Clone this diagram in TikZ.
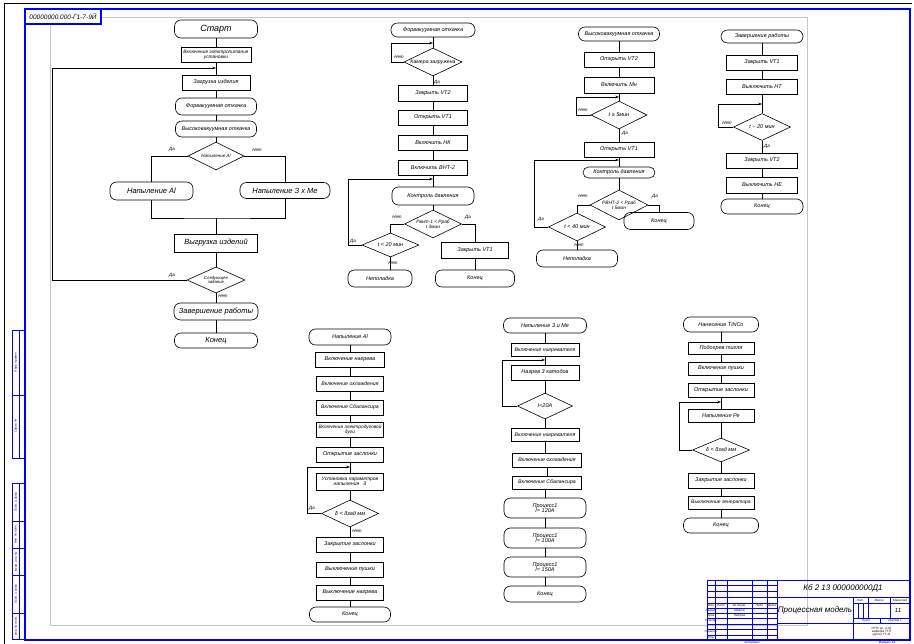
\documentclass[tikz,border=0pt]{standalone}
\usepackage{fontspec}
\setmainfont{Liberation Sans}
\usetikzlibrary{shapes.geometric,arrows.meta}
\newcommand\gfs[1]{\fontsize{#1}{#1}\selectfont\itshape}
\tikzset{
  base/.style={draw, line width=0.6pt, inner sep=0.5pt, align=center, font=\gfs{5.5}},
  term/.style={base, rounded corners=6.5pt},
  proc/.style={base},
  dec/.style={draw, line width=0.6pt, diamond, inner sep=0pt},
  dtx/.style={font=\gfs{5.5}, align=center, inner sep=0pt},
  sz/.style 2 args={minimum width=#1pt, minimum height=#2pt},
  ln/.style={line width=0.6pt},
  arr/.style={ln, -{Stealth[length=3.5pt,width=2.5pt]}},
  lbl/.style={font=\gfs{4.5}, inner sep=0.5pt},
  frm/.style={blue, line width=1.3pt},
  tb/.style={blue, line width=0.9pt},
  tbt/.style={font=\gfs{3}, inner sep=0pt},
}
\begin{document}
\begin{tikzpicture}[x=1pt,y=-1pt]
\useasboundingbox (0,0) rectangle (914,644);
\fill[white] (0,0) rectangle (914,644);
% sheet frames
\draw[gray!45, line width=0.8pt] (50,17) rectangle (807,625);
\draw[black, line width=0.7pt] (4,644) -- (4,3) -- (912,3);
\draw[frm] (25,9) rectangle (910,640);
\draw[frm, fill=white] (25,9) rectangle (101,24);
\node[font=\gfs{6.5}, inner sep=0pt] (stamp) at (63,16.5) {00000000.000-Г1-7-9Й};
% left margin stamps
\draw[tb] (12.7,330) rectangle (25,458);
\draw[tb] (19,330) -- (19,458);
\draw[tb] (12.7,395) -- (25,395);
\draw[tb] (12.7,483) rectangle (25,639);
\draw[tb] (19,483) -- (19,639);
\foreach \yy in {521,548,575,613} \draw[tb] (12.7,\yy) -- (25,\yy);
\node[tbt, rotate=90] (m1) at (15.9,362) {Перв. примен.};
\node[tbt, rotate=90] (m2) at (15.9,426) {Справ. №};
\node[tbt, rotate=90] (m3) at (15.9,502) {Подп. и дата};
\node[tbt, rotate=90] (m4) at (15.9,534.5) {Инв. № дубл.};
\node[tbt, rotate=90] (m5) at (15.9,561.5) {Взам. инв. №};
\node[tbt, rotate=90] (m6) at (15.9,594) {Подп. и дата};
\node[tbt, rotate=90] (m7) at (15.9,626) {Инв. № подл.};
% title block
\draw[tb] (707,580) rectangle (910,640);
\draw[tb] (777,580) -- (777,640);
\draw[tb] (777,597) -- (910,597);
\draw[tb] (777,623) -- (910,623);
\draw[tb] (853,597) -- (853,640);
\draw[tb] (853,603) -- (910,603);
\draw[tb] (853,618) -- (910,618);
\draw[tb] (868,597) -- (868,618);
\draw[tb] (890,597) -- (890,618);
\draw[tb] (858,603) -- (858,618);
\draw[tb] (863,603) -- (863,618);
\draw[tb] (880,618) -- (880,623);
\foreach \xx in {715,727,752,767} \draw[tb] (\xx,580) -- (\xx,640);
\foreach \yy in {585,591,597,603,608,613,618,624,629,635} \draw[tb] (707,\yy) -- (777,\yy);
\node[font=\gfs{8}, inner sep=0pt] (tbcode) at (843,588.5) {Кб 2 13 000000000Д1};
\node[font=\gfs{8}, inner sep=0pt] (tbname) at (815,610) {Процессная модель};
\node[tbt] (tl1) at (860.5,600) {Лит.};
\node[tbt] (tl2) at (879,600) {Масса};
\node[tbt] (tl3) at (900,600) {Масштаб};
\node[font=\gfs{6}, inner sep=0pt] (tl4) at (898,610.5) {11};
\node[tbt] (tl5) at (866,620.5) {Лист};
\node[tbt] (tl6) at (895,620.5) {Листов 1};
\node[tbt, align=center] (tl7) at (881.5,631.5) {ИГТУ гр. Х-01\\кафедра ТТП\\группа ТТ-11};
\node[tbt] (th1) at (711,605.5) {Изм};
\node[tbt] (th2) at (721,605.5) {Лист};
\node[tbt] (th3) at (739.5,605.5) {№ докум.};
\node[tbt] (th4) at (759.5,605.5) {Подп.};
\node[tbt] (th5) at (772,605.5) {Дата};
\node[tbt] (tr1) at (711,610.5) {Разраб.};
\node[tbt] (tr1b) at (739.5,610.5) {Иванов};
\node[tbt] (tr2) at (711,615.5) {Пров.};
\node[tbt] (tr2b) at (739.5,615.5) {Петров};
\node[tbt] (tr3) at (711,621) {Т.контр.};
\node[tbt] (tr4) at (711,632) {Н.контр.};
\node[tbt] (tr5) at (711,637.5) {Утв.};
\node[tbt] (tcop) at (752,642.3) {Копировал};
\node[tbt] (tfmt) at (887,642.3) {Формат А3};

% ===== Flowchart A =====
\node[term, sz={83}{18}, font=\gfs{9}] (A1) at (216,29) {Старт};
\node[proc, sz={70}{15}, font=\gfs{4.8}] (A2) at (216,54.5) {Включение электропитания\\установки};
\node[proc, sz={68}{15}] (A3) at (216,82.5) {Загрузка изделия};
\node[term, sz={81}{17}] (A4) at (216,106.5) {Форвакуумная откачка};
\node[term, sz={81}{16}] (A5) at (216,129) {Высоковакуумная откачка};
\node[dec, sz={56}{28}, label={[dtx,font=\gfs{4.5}]center:{Напыление Al}}] (A6) at (216,156) {};
\node[term, sz={83}{18}, font=\gfs{7.5}] (A7) at (151.5,191) {Напыление Al};
\node[term, sz={90}{16}, font=\gfs{7.5}] (A8) at (285,190.5) {Напыление З х Ме};
\coordinate (Aj) at (216,218);
\node[proc, sz={83}{18}, font=\gfs{7.5}] (A9) at (216,243) {Выгрузка изделий};
\node[dec, sz={58}{26}, label={[dtx,font=\gfs{4.3}]center:{Следующее\\задание}}] (A10) at (216,280) {};
\node[term, sz={84}{17}, font=\gfs{7.5}] (A11) at (216,311.5) {Завершение работы};
\node[term, sz={83}{15}, font=\gfs{7.5}] (A12) at (216,340.5) {Конец};
\coordinate (AL) at (52,68);
\draw[ln] (A1) -- (A2);
\draw[ln] (A2) -- (A3);
\draw[ln] (A3) -- (A4);
\draw[ln] (A4) -- (A5);
\draw[ln] (A5) -- (A6);
\draw[ln] (A6.west) -| (A7.north);
\draw[ln] (A6.east) -| (A8.north);
\draw[ln] (A7.south) |- (Aj) -| (A8.south);
\draw[ln] (Aj) -- (A9);
\draw[ln] (A9) -- (A10);
\draw[ln] (A10) -- (A11);
\draw[ln] (A11) -- (A12);
\draw[arr] (A10.west) -| (AL) -- (A3.north |- AL);
\node[lbl] (lA1) at (172,149) {Да};
\node[lbl] (lA2) at (257,150) {Нет};
\node[lbl] (lA3) at (172,275) {Да};
\node[lbl] (lA4) at (223,296) {Нет};

% ===== Flowchart B =====
\node[term, sz={84}{14}] (B1) at (433,30) {Форвакуумная откачка};
\node[dec, sz={58}{28}, label={[dtx,font=\gfs{5.2}]center:{Камера загружена}}] (B2) at (433,62) {};
\node[proc, sz={69}{16}] (B3) at (433,93) {Закрыть VT2};
\node[proc, sz={69}{15}] (B4) at (433,117.5) {Открыть VT1};
\node[proc, sz={69}{15}] (B5) at (433,142.5) {Включить НК};
\node[proc, sz={69}{15}] (B6) at (433,167.5) {Включить ВНТ-2};
\node[term, sz={82}{18}] (B7) at (433,196) {Контроль давления};
\node[dec, sz={57}{28}, label={[dtx,font=\gfs{4.8}]center:{Pвнт-1 < Pраб\\t 3мин}}] (B8) at (433,224) {};
\node[dec, sz={57}{24}, label={[dtx]center:{t < 20 мин}}] (B9) at (390.5,245) {};
\node[term, sz={64}{17}] (B10) at (380,278.5) {Неполадка};
\node[proc, sz={67}{16}] (B11) at (475,250) {Закрыть VT1};
\node[term, sz={79}{17}] (B12) at (475,278.5) {Конец};
\coordinate (BL1) at (391,43);
\coordinate (BL2) at (348,179);
\draw[ln] (B1) -- (B2);
\draw[ln] (B2) -- (B3);
\draw[ln] (B3) -- (B4);
\draw[ln] (B4) -- (B5);
\draw[ln] (B5) -- (B6);
\draw[ln] (B6) -- (B7);
\draw[ln] (B7) -- (B8);
\draw[ln] (B8.west) -| (B9.north);
\draw[ln] (B8.east) -| (B11.north);
\draw[ln] (B9.south) -- (B9.south |- B10.north);
\draw[ln] (B11) -- (B12);
\draw[arr] (B2.west) -| (BL1) -- (B2.north |- BL1);
\draw[arr] (B9.west) -| (BL2) -- (B6.south |- BL2);
\node[lbl] (lB1) at (399,57) {Нет};
\node[lbl] (lB2) at (437,82) {Да};
\node[lbl] (lB3) at (397,217) {Нет};
\node[lbl] (lB4) at (468,217) {Да};
\node[lbl] (lB5) at (353,241) {Да};
\node[lbl] (lB6) at (393,263) {Нет};

% ===== Flowchart C =====
\node[term, sz={81}{14}] (C1) at (619,34) {Высоковакуумная откачка};
\node[proc, sz={70}{15}] (C2) at (619,59.5) {Открыть VT2};
\node[proc, sz={70}{16}] (C3) at (619,85) {Включить Мн};
\node[dec, sz={56}{28}, label={[dtx]center:{t ≥ 5мин}}] (C4) at (619,115) {};
\node[proc, sz={70}{15}] (C5) at (619,149.5) {Открыть VT1};
\node[term, sz={72}{11}, rounded corners=5.5pt] (C6) at (619,172.5) {Контроль давления};
\node[dec, sz={58}{30}, label={[dtx,font=\gfs{4.8}]center:{PВНТ-2 < Pраб\\t 5мин}}] (C7) at (619,205) {};
\node[dec, sz={57}{28}, label={[dtx]center:{t < 40 мин}}] (C8) at (577,227) {};
\node[term, sz={81}{17}] (C9) at (577,258.5) {Неполадка};
\node[term, sz={70}{17}] (C10) at (659,221) {Конец};
\coordinate (CL1) at (576,97);
\coordinate (CL2) at (534,160);
\draw[ln] (C1) -- (C2);
\draw[ln] (C2) -- (C3);
\draw[ln] (C3) -- (C4);
\draw[ln] (C4) -- (C5);
\draw[ln] (C5) -- (C6);
\draw[ln] (C6) -- (C7);
\draw[ln] (C7.west) -| (C8.north);
\draw[ln] (C7.east) -| (C10.north);
\draw[ln] (C8) -- (C9);
\draw[arr] (C4.west) -| (CL1) -- (C3.south |- CL1);
\draw[arr] (C8.west) -| (CL2) -- (C5.south |- CL2);
\node[lbl] (lC1) at (583,110) {Нет};
\node[lbl] (lC2) at (625,133) {Да};
\node[lbl] (lC3) at (583,196) {Нет};
\node[lbl] (lC4) at (655,196) {Да};
\node[lbl] (lC5) at (541,219) {Да};
\node[lbl] (lC6) at (579,245) {Нет};

% ===== Flowchart D =====
\node[term, sz={82}{13}] (D1) at (762,36.5) {Завершение работы};
\node[proc, sz={71}{15}] (D2) at (762,62.5) {Закрыть VT1};
\node[proc, sz={71}{15}] (D3) at (762,86.5) {Выключить НТ};
\node[dec, sz={57}{27}, label={[dtx]center:{t \char"007E{} 20 мин}}] (D4) at (762,127) {};
\node[proc, sz={71}{15}] (D5) at (762,160.5) {Закрыть VT2};
\node[proc, sz={71}{16}] (D6) at (762,185) {Выключить НЕ};
\node[term, sz={82}{15}] (D7) at (762,206.5) {Конец};
\coordinate (DL) at (718,104);
\draw[ln] (D1) -- (D2);
\draw[ln] (D2) -- (D3);
\draw[ln] (D3) -- (D4);
\draw[ln] (D4) -- (D5);
\draw[ln] (D5) -- (D6);
\draw[ln] (D6) -- (D7);
\draw[arr] (D4.west) -| (DL) -- (D3.south |- DL);
\node[lbl] (lD1) at (727,123) {Нет};
\node[lbl] (lD2) at (767,146) {Да};

% ===== Flowchart E =====
\node[term, sz={82}{16}] (E1) at (350,337) {Напыление Al};
\node[proc, sz={69}{15}] (E2) at (350,359.5) {Включение нагрева};
\node[proc, sz={67}{15}, font=\gfs{5.2}] (E3) at (350,383.5) {Включение охлаждения};
\node[proc, sz={67}{15}, font=\gfs{5.2}] (E4) at (350,407.5) {Включение Сбалансира};
\node[proc, sz={67}{15}, font=\gfs{4.8}] (E5) at (350,429.5) {Включение электродуговой\\дуги};
\node[proc, sz={67}{15}] (E6) at (350,454.5) {Открытие заслонки};
\node[proc, sz={67}{17}, font=\gfs{5}] (E7) at (350,481.5) {Установка параметров\\напыления \ \ δ};
\node[dec, sz={57}{27}, label={[dtx]center:{δ < δзад мм}}] (E8) at (350,513.5) {};
\node[proc, sz={67}{15}] (E9) at (350,544.5) {Закрытие заслонки};
\node[proc, sz={67}{15}] (E10) at (350,569.5) {Выключение пушки};
\node[proc, sz={67}{15}] (E11) at (350,592.5) {Выключение нагрева};
\node[term, sz={81}{15}] (E12) at (350,614.5) {Конец};
\coordinate (EL) at (307,467);
\draw[ln] (E1) -- (E2);
\draw[ln] (E2) -- (E3);
\draw[ln] (E3) -- (E4);
\draw[ln] (E4) -- (E5);
\draw[ln] (E5) -- (E6);
\draw[ln] (E6) -- (E7);
\draw[ln] (E7) -- (E8);
\draw[ln] (E8) -- (E9);
\draw[ln] (E9) -- (E10);
\draw[ln] (E10) -- (E11);
\draw[ln] (E11) -- (E12);
\draw[arr] (E8.west) -| (EL) -- (E6.south |- EL);
\node[lbl] (lE1) at (312,508) {Да};
\node[lbl] (lE2) at (357,531) {Нет};

% ===== Flowchart F =====
\node[term, sz={83}{15}] (F1) at (545,325.5) {Напыление З и Ме};
\node[proc, sz={68}{13}, font=\gfs{5.2}] (F2) at (545,350) {Включение нагревателя};
\node[proc, sz={68}{15}] (F3) at (545,372.5) {Нагрев 3 катодов};
\node[dec, sz={55}{26}, label={[dtx]center:{I<20А}}] (F4) at (545,406) {};
\node[proc, sz={68}{13}, font=\gfs{5.2}] (F5) at (545,435) {Включение нагревателя};
\node[proc, sz={69}{14}, font=\gfs{5.2}] (F6) at (547,460) {Включение охлаждения};
\node[proc, sz={69}{13}, font=\gfs{5.2}] (F7) at (547,482.5) {Включение Сбалансира};
\node[term, sz={82}{20}] (F8) at (545,508) {Процесс1\\I= 120А};
\node[term, sz={82}{20}] (F9) at (545,538) {Процесс1\\I= 100А};
\node[term, sz={82}{20}] (F10) at (545,567) {Процесс1\\I= 150А};
\node[term, sz={82}{16}] (F11) at (545,594) {Конец};
\coordinate (FL) at (502,360);
\draw[ln] (F1) -- (F2);
\draw[ln] (F2) -- (F3);
\draw[ln] (F3) -- (F4);
\draw[ln] (F4) -- (F5);
\draw[ln] (F5.south) -- (F5.south |- F6.north);
\draw[ln] (F6) -- (F7);
\draw[ln] (F7.south) -- (F7.south -| F8.north) -- (F8.north);
\draw[ln] (F8) -- (F9);
\draw[ln] (F9) -- (F10);
\draw[ln] (F10) -- (F11);
\draw[arr] (F4.west) -| (FL) -- (F2.south |- FL);

% ===== Flowchart G =====
\node[term, sz={75}{15}] (G1) at (721,324.5) {Нанесение TiNCo};
\node[proc, sz={66}{12}] (G2) at (721,348) {Подогрев тигля};
\node[proc, sz={66}{13}] (G3) at (721,368.5) {Включение пушки};
\node[proc, sz={66}{14}] (G4) at (721,390) {Открытие заслонки};
\node[proc, sz={66}{13}] (G5) at (721,415.5) {Напыление Ре};
\node[dec, sz={57}{24}, label={[dtx]center:{δ < δзад мм}}] (G6) at (721,450) {};
\node[proc, sz={66}{15}] (G7) at (721,480.5) {Закрытие заслонки};
\node[proc, sz={66}{13}, font=\gfs{5}] (G8) at (721,502.5) {Выключение генератора};
\node[term, sz={75}{15}] (G9) at (721,525.5) {Конец};
\coordinate (GL) at (679,402);
\draw[ln] (G1) -- (G2);
\draw[ln] (G2) -- (G3);
\draw[ln] (G3) -- (G4);
\draw[ln] (G4) -- (G5);
\draw[ln] (G5) -- (G6);
\draw[ln] (G6) -- (G7);
\draw[ln] (G7) -- (G8);
\draw[ln] (G8) -- (G9);
\draw[arr] (G6.west) -| (GL) -- (G4.south |- GL);
\end{tikzpicture}
\end{document}
